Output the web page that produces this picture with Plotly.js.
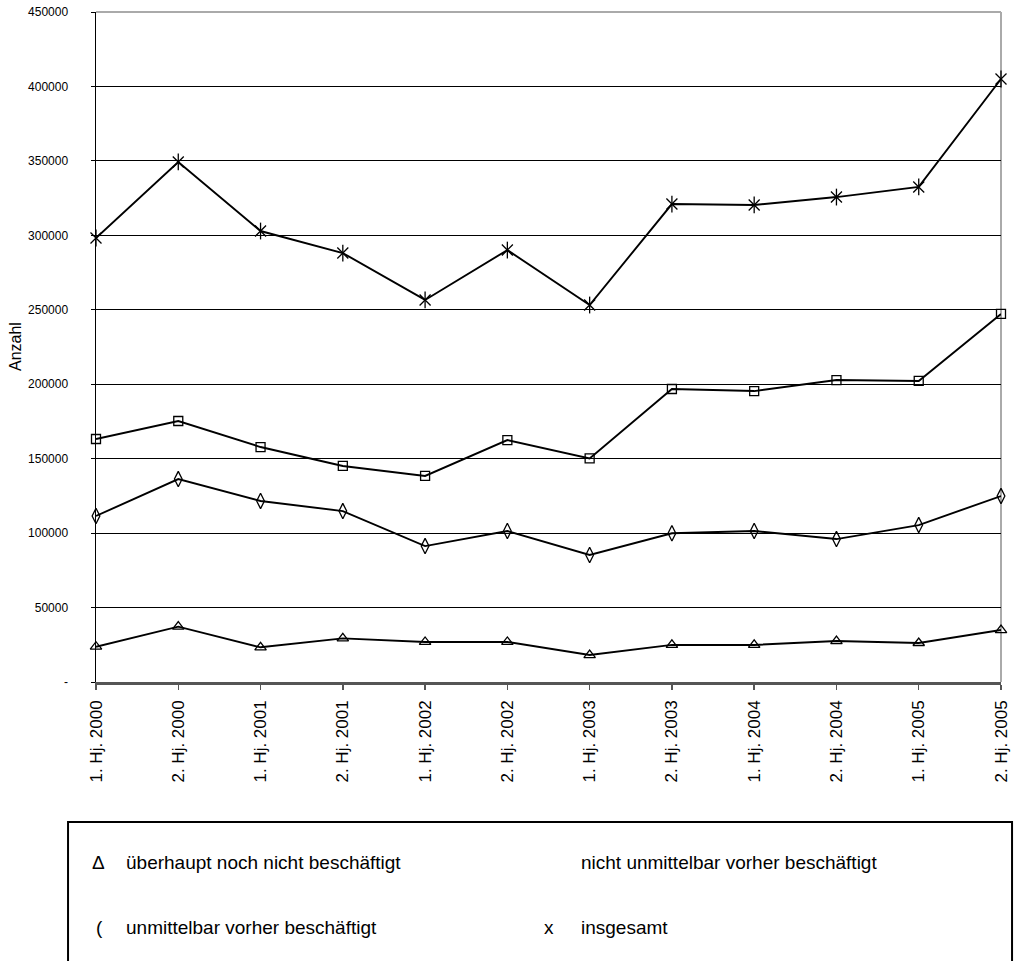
<!DOCTYPE html>
<html>
<head>
<meta charset="utf-8">
<script src="https://cdn.plot.ly/plotly-3.0.1.min.js"></script>
<style>
html,body{margin:0;padding:0;background:#fff;}
#chart{width:1014px;height:961px;}
</style>
</head>
<body>
<div id="chart"></div>
<script>
const categories = ["1. Hj. 2000","2. Hj. 2000","1. Hj. 2001","2. Hj. 2001","1. Hj. 2002","2. Hj. 2002","1. Hj. 2003","2. Hj. 2003","1. Hj. 2004","2. Hj. 2004","1. Hj. 2005","2. Hj. 2005"];
const ueberhaupt = [23700, 37200, 23300, 29300, 26900, 26900, 18100, 24900, 24900, 27500, 26200, 34900];
const unmittelbar = [111500, 136300, 121600, 114800, 91300, 101400, 85300, 99900, 101400, 96000, 105400, 124900];
const nichtUnmittelbar = [163200, 175300, 157800, 145100, 138400, 162500, 150200, 196800, 195400, 202800, 202200, 247200];
const insgesamt = [298200, 349300, 302900, 288100, 256600, 290100, 253200, 321000, 320400, 325700, 332500, 405000];
const yTickVals = [0, 50000, 100000, 150000, 200000, 250000, 300000, 350000, 400000, 450000];
const yTickText = ["-", "50000", "100000", "150000", "200000", "250000", "300000", "350000", "400000", "450000"];
const legendRow1 = ["Δ", "überhaupt noch nicht beschäftigt", "", "nicht unmittelbar vorher beschäftigt"];
const legendRow2 = ["(", "unmittelbar vorher beschäftigt", "x", "insgesamt"];

const lineStyle = {color: "#000", width: 1.9};
function mk(symbol, size) {
  return {symbol: symbol, size: size, color: "#000", line: {color: "#000", width: 1.3}};
}
const traces = [
  {x: categories, y: ueberhaupt, mode: "lines+markers", line: lineStyle, marker: mk("triangle-up-open", 10), cliponaxis: false, name: "überhaupt noch nicht beschäftigt"},
  {x: categories, y: unmittelbar, mode: "lines+markers", line: lineStyle, marker: mk("diamond-tall-open", 11), cliponaxis: false, name: "unmittelbar vorher beschäftigt"},
  {x: categories, y: nichtUnmittelbar, mode: "lines+markers", line: lineStyle, marker: mk("square-open", 9), cliponaxis: false, name: "nicht unmittelbar vorher beschäftigt"},
  {x: categories, y: insgesamt, mode: "lines+markers", line: lineStyle, marker: mk("x-thin-open", 11), cliponaxis: false, name: "insgesamt"},
  {x: categories, y: insgesamt, mode: "markers", marker: mk("line-ns-open", 12), cliponaxis: false, showlegend: false, hoverinfo: "skip"}
];

const fontMain = "Liberation Sans, Arial, sans-serif";
const legFont = {size: 19, family: fontMain, color: "#000"};
const layout = {
  width: 1014, height: 961,
  margin: {l: 96, r: 13, t: 12, b: 279, pad: 0},
  paper_bgcolor: "#fff", plot_bgcolor: "#fff",
  showlegend: false,
  font: {family: fontMain, color: "#000"},
  xaxis: {
    type: "category", range: [0, 11],
    showgrid: false, zeroline: false,
    showline: true, linecolor: "#555", linewidth: 2.5,
    ticks: "outside", ticklen: 5, tickcolor: "#555", tickwidth: 1.5,
    ticklabelstandoff: 4,
    tickangle: -90, tickfont: {family: fontMain, size: 17, color: "#000"}
  },
  yaxis: {
    range: [0, 450000],
    tickvals: yTickVals, ticktext: yTickText,
    showgrid: true, gridcolor: "#000", gridwidth: 1,
    zeroline: false,
    showline: true, linecolor: "#000", linewidth: 1.5,
    ticks: "outside", ticklen: 4, tickcolor: "#000",
    ticklabelstandoff: 20,
    tickfont: {family: "Liberation Sans Narrow, Arial Narrow, Liberation Sans, sans-serif", size: 12, color: "#000"}
  },
  shapes: [
    {type: "line", xref: "paper", yref: "paper", x0: 0, x1: 1, y0: 1, y1: 1, line: {color: "#aaa", width: 2}, layer: "between"},
    {type: "line", xref: "paper", yref: "paper", x0: 1, x1: 1, y0: 0, y1: 1, line: {color: "#aaa", width: 2}, layer: "between"},
    {type: "rect", xref: "paper", yref: "paper", x0: -0.0309, x1: 1.0122, y0: -0.209, y1: -0.45, line: {color: "#000", width: 2}, fillcolor: "rgba(0,0,0,0)"}
  ],
  annotations: [
    {xref: "paper", yref: "paper", x: -0.0895, y: 0.50, text: "Anzahl", textangle: -90, showarrow: false, font: {size: 16, family: fontMain}, xanchor: "center", yanchor: "middle"},
    {xref: "paper", yref: "paper", x: -0.0065, y: -0.2687, text: legendRow1[0], showarrow: false, xanchor: "left", yanchor: "middle", font: legFont},
    {xref: "paper", yref: "paper", x: 0.031, y: -0.2687, text: legendRow1[1], showarrow: false, xanchor: "left", yanchor: "middle", font: legFont},
    {xref: "paper", yref: "paper", x: 0.534, y: -0.2687, text: legendRow1[3], showarrow: false, xanchor: "left", yanchor: "middle", font: legFont},
    {xref: "paper", yref: "paper", x: -0.002, y: -0.367, text: legendRow2[0], showarrow: false, xanchor: "left", yanchor: "middle", font: legFont},
    {xref: "paper", yref: "paper", x: 0.031, y: -0.367, text: legendRow2[1], showarrow: false, xanchor: "left", yanchor: "middle", font: legFont},
    {xref: "paper", yref: "paper", x: 0.493, y: -0.367, text: legendRow2[2], showarrow: false, xanchor: "left", yanchor: "middle", font: legFont},
    {xref: "paper", yref: "paper", x: 0.534, y: -0.367, text: legendRow2[3], showarrow: false, xanchor: "left", yanchor: "middle", font: legFont}
  ]
};
Plotly.newPlot("chart", traces, layout, {staticPlot: true, displayModeBar: false});
</script>
</body>
</html>
